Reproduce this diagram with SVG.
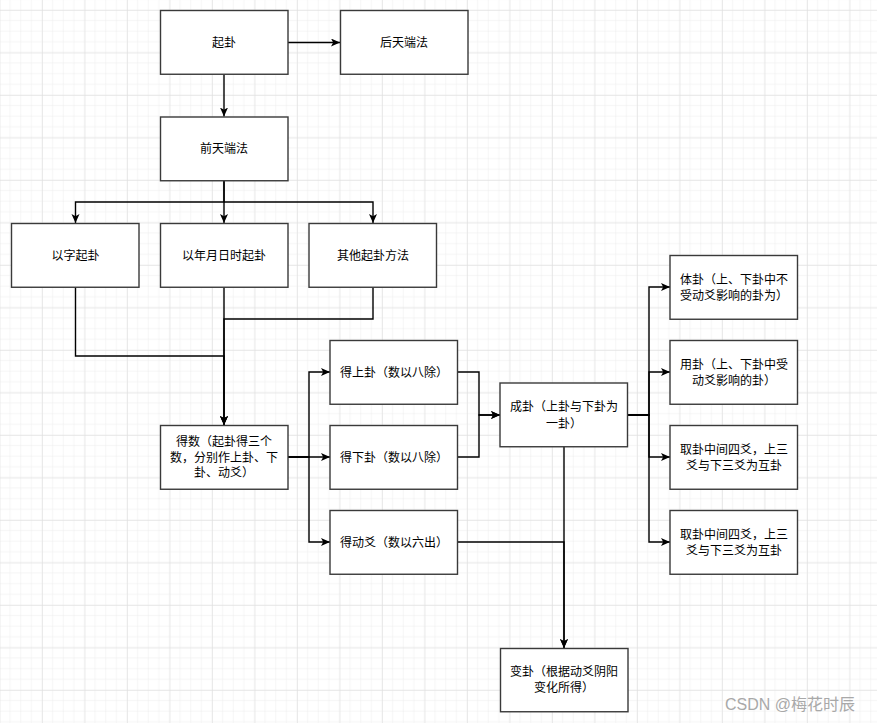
<svg xmlns="http://www.w3.org/2000/svg" width="877" height="723" viewBox="0 0 877 723">
<style>
.box{fill:#fff;stroke:#3a3a3a;stroke-width:1.4}
.t{font-family:"Noto Sans CJK SC","Noto Sans",sans-serif;font-size:12px;fill:#000;text-anchor:middle}
.e{fill:none;stroke:#000;stroke-width:1.4}
.wm{font-family:"Liberation Sans","Noto Sans CJK SC",sans-serif;font-size:16px;fill:#a0a0a0;opacity:0.9}
</style>
<defs>
<pattern id="minor" patternUnits="userSpaceOnUse" x="-0.5" y="10" width="10.625" height="10.625">
<path d="M0,0 H10.625 M0,0 V10.625" fill="none" stroke="#ececec" stroke-width="1"/>
</pattern>
<pattern id="major" patternUnits="userSpaceOnUse" x="-0.5" y="10" width="42.5" height="42.5">
<rect width="42.5" height="42.5" fill="url(#minor)"/>
<path d="M0,0 H42.5 M0,0 V42.5" fill="none" stroke="#dcdcdc" stroke-width="1"/>
</pattern>
<marker id="arr" markerUnits="userSpaceOnUse" markerWidth="10" markerHeight="10" refX="9" refY="4" orient="auto">
<path d="M0,0 L9,4 L0,8 L2.2,4 z" fill="#000"/>
</marker>
</defs>
<rect width="877" height="723" fill="#fff"/>
<rect width="877" height="723" fill="url(#major)"/>

<g id="connectors">
<path class="e" d="M288,42.5 H340" marker-end="url(#arr)"/>
<path class="e" d="M224,74.5 V116.5" marker-end="url(#arr)"/>
<path class="e" d="M224,181 V202 H75.5 V223" marker-end="url(#arr)"/>
<path class="e" d="M224,181 V223" marker-end="url(#arr)"/>
<path class="e" d="M224,202 H373 V223" marker-end="url(#arr)"/>
<path class="e" d="M75.5,287 V356 H224 V425" marker-end="url(#arr)"/>
<path class="e" d="M224,287 V425" marker-end="url(#arr)"/>
<path class="e" d="M373,287 V319 H224 V425" marker-end="url(#arr)"/>
<path class="e" d="M288,457 H309 V372 H330" marker-end="url(#arr)"/>
<path class="e" d="M288,457 H330" marker-end="url(#arr)"/>
<path class="e" d="M288,457 H309 V542 H330" marker-end="url(#arr)"/>
<path class="e" d="M458,372 H479 V415 H500" marker-end="url(#arr)"/>
<path class="e" d="M458,457 H479 V415 H500" marker-end="url(#arr)"/>
<path class="e" d="M564,446 V648" marker-end="url(#arr)"/>
<path class="e" d="M458,542 H564 V648" marker-end="url(#arr)"/>
<path class="e" d="M628,415 H649 V287 H670" marker-end="url(#arr)"/>
<path class="e" d="M628,415 H649 V372 H670" marker-end="url(#arr)"/>
<path class="e" d="M628,415 H649 V457 H670" marker-end="url(#arr)"/>
<path class="e" d="M628,415 H649 V542 H670" marker-end="url(#arr)"/>
</g>

<g id="qigua"><rect class="box" x="160.5" y="10.5" width="127.5" height="63.75"/><text class="t" x="224" y="46.5">起卦</text></g>
<g id="houtian"><rect class="box" x="340.5" y="10.5" width="127.5" height="63.75"/><text class="t" x="404" y="46.5">后天端法</text></g>
<g id="qiantian"><rect class="box" x="160.5" y="117" width="127.5" height="63.75"/><text class="t" x="224" y="153">前天端法</text></g>
<g id="yizi"><rect class="box" x="11.5" y="223.5" width="127.5" height="63.75"/><text class="t" x="75.5" y="259.5">以字起卦</text></g>
<g id="nianyue"><rect class="box" x="160.5" y="223.5" width="127.5" height="63.75"/><text class="t" x="224" y="259.5">以年月日时起卦</text></g>
<g id="qita"><rect class="box" x="309" y="223.5" width="127.5" height="63.75"/><text class="t" x="373" y="259.5">其他起卦方法</text></g>
<g id="deshu"><rect class="box" x="160.5" y="425.5" width="127.5" height="63.75"/>
<text class="t" x="224" y="446">得数（起卦得三个</text><text class="t" x="224" y="461.5">数，分别作上卦、下</text><text class="t" x="224" y="477">卦、动爻）</text></g>
<g id="shanggua"><rect class="box" x="330" y="340.5" width="127.5" height="63.75"/><text class="t" x="394" y="376.5">得上卦（数以八除）</text></g>
<g id="xiagua"><rect class="box" x="330" y="425.5" width="127.5" height="63.75"/><text class="t" x="394" y="461.5">得下卦（数以八除）</text></g>
<g id="dongyao"><rect class="box" x="330" y="510.5" width="127.5" height="63.75"/><text class="t" x="394" y="546.5">得动爻（数以六出）</text></g>
<g id="chenggua"><rect class="box" x="500" y="383" width="127.5" height="63.75"/>
<text class="t" x="564" y="411">成卦（上卦与下卦为</text><text class="t" x="564" y="427.5">一卦）</text></g>
<g id="biangua"><rect class="box" x="500.5" y="648.5" width="127.5" height="63.25"/>
<text class="t" x="564" y="676">变卦（根据动爻阴阳</text><text class="t" x="564" y="691.5">变化所得）</text></g>
<g id="tigua"><rect class="box" x="670" y="255.5" width="127.5" height="63.75"/>
<text class="t" x="734" y="284">体卦（上、下卦中不</text><text class="t" x="734" y="299.5">受动爻影响的卦为）</text></g>
<g id="yonggua"><rect class="box" x="670" y="340.5" width="127.5" height="63.75"/>
<text class="t" x="734" y="369">用卦（上、下卦中受</text><text class="t" x="734" y="384.5">动爻影响的卦）</text></g>
<g id="hugua1"><rect class="box" x="670" y="425.5" width="127.5" height="63.75"/>
<text class="t" x="734" y="454">取卦中间四爻，上三</text><text class="t" x="734" y="469.5">爻与下三爻为互卦</text></g>
<g id="hugua2"><rect class="box" x="670" y="510.5" width="127.5" height="63.75"/>
<text class="t" x="734" y="539">取卦中间四爻，上三</text><text class="t" x="734" y="554.5">爻与下三爻为互卦</text></g>

<text class="wm" x="725" y="710">CSDN @梅花时辰</text>
</svg>
